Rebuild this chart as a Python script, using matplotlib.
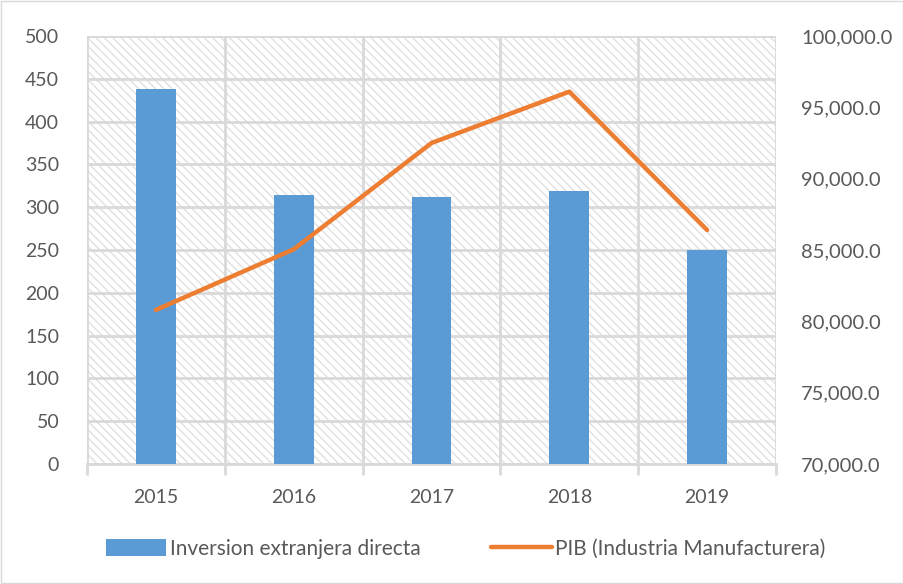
import matplotlib
matplotlib.use("Agg")
import matplotlib.pyplot as plt
from matplotlib.patches import Rectangle, Patch
from matplotlib.lines import Line2D
import numpy as np

years = ["2015", "2016", "2017", "2018", "2019"]
ied = [438, 314, 312, 319, 250]
pib = [80800, 85050, 92500, 96100, 86400]

plt.rcParams['font.family'] = ['Lato', 'DejaVu Sans']
plt.rcParams['hatch.color'] = '#e0e0e0'
plt.rcParams['hatch.linewidth'] = 1.0

fig = plt.figure(figsize=(9.04, 5.84), dpi=100)
ax = fig.add_axes([87/904, 1-464/584, (776-87)/904, (464-36)/584])
ax2 = ax.twinx()

x = np.arange(len(years))
bg = Rectangle((0, 0), 1, 1, transform=ax.transAxes, facecolor='white',
               edgecolor='#e0e0e0', hatch='\\\\\\\\', linewidth=0, zorder=0)
ax.add_patch(bg)

for v in range(0, 501, 50):
    ax.axhline(v, color='#d9d9d9', lw=2, zorder=1)
for b in np.arange(-0.5, len(years), 1.0):
    ax.axvline(b, color='#d9d9d9', lw=2, zorder=1)

ax.bar(x, ied, width=0.29, color='#5b9bd5', zorder=3)
ax2.plot(x, pib, color='#ed7d31', lw=3.2, solid_capstyle='round', zorder=4)

ax.set_xlim(-0.5, len(years) - 0.5)
ax.set_ylim(0, 500)
ax.set_yticks(range(0, 501, 50))
ax2.set_ylim(70000, 100000)
ax2.set_yticks(range(70000, 100001, 5000))
ax2.set_yticklabels([f"{v:,.1f}" for v in range(70000, 100001, 5000)])

ax.set_xticks(x)
ax.set_xticklabels(years)
ax.set_xticks(np.arange(-0.5, len(years), 1.0), minor=True)
ax.tick_params(axis='x', which='major', length=0, pad=18, labelsize=14, labelcolor='#595959')
ax.tick_params(axis='x', which='minor', length=8, width=2, color='#d9d9d9', direction='out')
ax.tick_params(axis='y', length=0, labelsize=14, labelcolor='#595959', pad=20)
ax2.tick_params(axis='y', length=0, labelsize=14.5, labelcolor='#595959', pad=18)

for a in (ax, ax2):
    for s in a.spines.values():
        s.set_visible(False)
ax.spines['bottom'].set_visible(True)
ax.spines['bottom'].set_color('#d9d9d9')
ax.spines['bottom'].set_linewidth(2)
ax.patch.set_visible(False)

handles = [Patch(facecolor='#5b9bd5', edgecolor='none', label='Inversion extranjera directa'),
           Line2D([0], [0], color='#ed7d31', lw=3.2, solid_capstyle='round', label='PIB (Industria Manufacturera)')]
fig.legend(handles=handles, loc='center', bbox_to_anchor=(0.515, 1-549/584), ncol=2, frameon=False,
           fontsize=15, labelcolor='#595959', handlelength=2.9, handleheight=0.85,
           handletextpad=0.15, columnspacing=3.4)

fig.add_artist(Rectangle((0.001, 0.001), 0.998, 0.998, transform=fig.transFigure,
                         fill=False, edgecolor='#d9d9d9', lw=1))

fig.savefig("out.png", dpi=100)
